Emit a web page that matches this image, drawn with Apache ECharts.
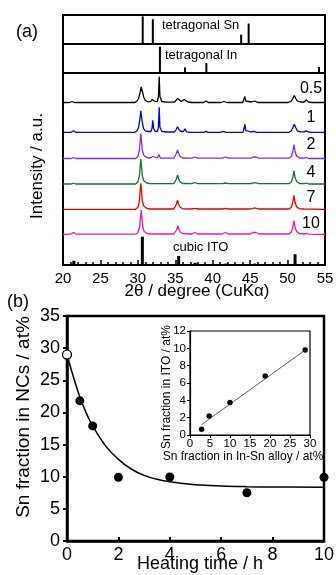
<!DOCTYPE html>
<html><head><meta charset="utf-8">
<script src="https://cdn.jsdelivr.net/npm/echarts@6/dist/echarts.min.js"></script>
<style>html,body{margin:0;padding:0;background:#fff}#c{width:336px;height:575px}</style>
</head><body><div id="c"></div>
<script>
// ---------- DATA ----------
// reference sticks [2theta, relative intensity]
const snSticks = [[30.65,100],[32.0,90],[43.8,34],[44.8,74]];
const inSticks = [[32.95,100],[36.3,21],[39.15,38],[54.2,23]];
const itoSticks = [[21.45,15],[30.6,100],[35.45,32],[37.65,8],[41.75,5],[45.6,5],[51.0,38]];
// XRD patterns [2theta, intensity a.u.]
const pattern05 = [[20,0],[20.9,0],[21.2,1],[21.5,0],[29.6,0],[29.9,1.5],[30.1,4],[30.3,10],[30.45,15.5],[30.6,11],[30.8,5],[31.0,2],[31.3,0.8],[31.7,0.8],[31.9,3],[32.0,5],[32.1,3],[32.3,1],[32.6,0.8],[32.75,6],[32.85,26],[32.95,6],[33.2,1],[33.8,0.3],[34.9,0.3],[35.1,2],[35.3,4],[35.5,2],[35.8,1],[36.0,1],[36.2,3],[36.3,5],[36.4,3],[36.7,0.5],[37.2,0],[38.8,0],[39.1,1.5],[39.4,0],[41.1,0],[41.5,1],[41.9,0],[44.0,0],[44.2,1.5],[44.3,6],[44.4,1.5],[44.6,0.5],[45.2,0.5],[45.6,1.5],[46.0,0],[50.1,0],[50.5,1.5],[50.7,4],[50.9,7],[51.1,4],[51.3,1.5],[51.7,0.5],[52.2,0.5],[52.5,2.5],[52.8,0.5],[53.2,0],[55,0]];
const pattern1 = [[20,0],[21.1,0],[21.4,1.5],[21.7,0],[29.6,0],[29.9,1.5],[30.1,5],[30.25,12],[30.4,21.5],[30.55,12],[30.75,4],[31.0,1.5],[31.4,0.8],[31.75,0.8],[31.9,4],[32.0,12],[32.1,4],[32.3,1],[32.6,0.8],[32.75,5],[32.85,25],[32.95,5],[33.2,1],[33.8,0.3],[34.9,0.3],[35.1,2.5],[35.3,5.6],[35.5,2.5],[35.8,0.8],[36.1,0.8],[36.3,3.5],[36.5,0.5],[37.0,0],[38.8,0],[39.1,1],[39.4,0],[41.0,0],[41.4,1],[41.8,0],[44.05,0],[44.2,2],[44.3,8],[44.4,2],[44.6,0.5],[45.1,0.3],[45.5,1],[45.9,0],[50.2,0],[50.5,1.5],[50.7,4.5],[50.9,8],[51.1,4.5],[51.3,1.5],[51.7,0.5],[52.2,0.5],[52.5,1.5],[52.8,0.3],[53.2,0],[55,0]];
const pattern2 = [[20,0],[21.1,0],[21.4,1],[21.7,0],[29.7,0],[30.0,2],[30.2,8],[30.4,25],[30.6,8],[30.8,3],[31.2,1],[31.6,0.5],[31.8,0.5],[32.0,2],[32.2,0.5],[32.6,0.5],[32.8,4],[33.0,0.5],[33.6,0.3],[34.8,0.3],[35.0,2],[35.15,5],[35.3,8.5],[35.45,5],[35.65,2],[36.0,0.5],[37.2,0.3],[37.6,1.5],[38.0,0.3],[41.3,0.3],[41.7,1.5],[42.1,0.3],[45.1,0.3],[45.4,1.5],[45.6,2.5],[45.8,1.5],[46.1,0.3],[50.2,0.3],[50.5,2],[50.7,7],[50.85,14],[51.0,7],[51.2,2.5],[51.6,0.5],[52.2,0.3],[52.5,1],[52.8,0],[55,0]];
const pattern4 = [[20,0],[21.1,0],[21.4,1],[21.7,0],[29.7,0],[30.0,2],[30.2,8],[30.4,25],[30.6,8],[30.8,3],[31.2,1],[31.6,0.3],[34.8,0.3],[35.0,2],[35.15,5],[35.3,9],[35.45,5],[35.65,2],[36.0,0.5],[37.2,0.3],[37.6,1.5],[38.0,0.3],[41.3,0.3],[41.7,1],[42.1,0.3],[45.1,0.3],[45.4,1.2],[45.6,2],[45.8,1.2],[46.1,0.3],[49.0,0.3],[49.2,1],[49.4,0.3],[50.2,0.3],[50.5,2],[50.7,6.5],[50.85,13.3],[51.0,6.5],[51.2,2.5],[51.6,0.5],[52.2,0.3],[52.5,1],[52.8,0],[55,0]];
const pattern7 = [[20,0],[29.7,0],[30.0,2],[30.2,8],[30.4,26],[30.6,8],[30.8,3],[31.2,1],[31.6,0.3],[34.8,0.3],[35.0,2],[35.15,5],[35.3,9],[35.45,5],[35.65,2],[36.0,0.5],[37.2,0.3],[37.6,1],[38.0,0.3],[41.3,0.3],[41.7,1],[42.1,0.3],[45.1,0.3],[45.6,1.5],[46.1,0.3],[50.2,0.3],[50.5,2],[50.7,7],[50.85,14],[51.0,7],[51.2,2.5],[51.6,0.5],[52.2,0.3],[55,0]];
const pattern10 = [[20,0],[21.0,0.3],[21.4,2],[21.8,0.3],[29.7,0.3],[30.0,2],[30.25,8],[30.45,24.5],[30.65,8],[30.85,3],[31.2,1.2],[31.6,0.5],[34.8,0.5],[35.05,2],[35.2,5],[35.35,8.5],[35.5,5],[35.7,2],[36.0,1],[37.2,0.5],[37.6,2],[38.0,0.5],[41.3,0.5],[41.7,2],[42.1,0.5],[45.0,0.5],[45.4,2],[45.6,3],[45.8,2],[46.2,0.5],[50.2,0.5],[50.5,2.5],[50.7,7],[50.85,14],[51.0,7],[51.2,3],[51.6,1],[52.2,0.5],[52.5,1],[52.8,0.3],[55,0]];
const patternLabels = ['0.5','1','2','4','7','10'];
const patternColors = ['#000000','#0000dd','#7b30e0','#1a6e30','#e00000','#f0189a'];
// panel (b)
const heatingTime = [0.5, 1, 2, 4, 7, 10];
const snFractionNCs = [21.8, 17.9, 9.9, 9.95, 7.5, 9.9];
const initialPoint = [[0, 29]];
const fitCurve = [[0,29],[0.25,25.5],[0.5,22.4],[0.75,19.9],[1,17.9],[1.5,14.8],[2,12.7],[2.5,11.2],[3,10.2],[3.5,9.6],[4,9.2],[5,8.75],[6,8.55],[7,8.45],[8,8.4],[10,8.35]];
const insetAlloy = [2.9, 4.8, 10, 18.8, 28.8];
const insetITO = [0.65, 2.2, 3.75, 6.8, 9.8];
const insetFit = [[2.9,1.2],[28.8,9.8]];

// ---------- LAYOUT ----------
const FONT = '"Liberation Sans", Arial, Helvetica, sans-serif';
const chart = echarts.init(document.getElementById('c'));
const grids = [], xAxes = [], yAxes = [], series = [];
const hidden = {axisLine:{show:false}, axisTick:{show:false}, axisLabel:{show:false}, splitLine:{show:false}};
function addGrid(g, xa, ya) {
  grids.push(Object.assign({outerBoundsMode:'none', containLabel:false}, g));
  const i = grids.length - 1;
  xAxes.push(Object.assign({gridIndex:i, type:'value'}, hidden, xa));
  yAxes.push(Object.assign({gridIndex:i, type:'value'}, hidden, ya));
  return i;
}
const AL = 63, AW = 262;
const ax = {min:20, max:55};
// frame of panel (a) with the 2theta axis
addGrid({left:AL, top:15, width:AW, height:250, show:true, borderColor:'#000', borderWidth:2},
  Object.assign({}, ax, {interval:5,
    axisLine:{show:true, onZero:false, lineStyle:{color:'#000', width:2}},
    axisTick:{show:true, inside:true, length:5, lineStyle:{color:'#000', width:1.5}},
    minorTick:{show:true, splitNumber:5, length:3, lineStyle:{color:'#000', width:1.5}},
    axisLabel:{show:true, color:'#000', fontSize:15, fontFamily:FONT, margin:6}}),
  {min:0, max:1});
// tetragonal Sn
let gi = addGrid({left:AL, top:15, width:AW, height:29},
  Object.assign({}, ax, {axisLine:{show:true, onZero:false, lineStyle:{color:'#000', width:2}}}), {min:0, max:105});
series.push({type:'bar', xAxisIndex:gi, yAxisIndex:gi, data:snSticks, barWidth:2, itemStyle:{color:'#000'}, silent:true});
// tetragonal In
gi = addGrid({left:AL, top:44, width:AW, height:29},
  Object.assign({}, ax, {axisLine:{show:true, onZero:false, lineStyle:{color:'#000', width:2}}}), {min:0, max:110});
series.push({type:'bar', xAxisIndex:gi, yAxisIndex:gi, data:inSticks, barWidth:2, itemStyle:{color:'#000'}, silent:true});
// patterns
const patterns = [pattern05, pattern1, pattern2, pattern4, pattern7, pattern10];
const baselines = [102.5, 132.3, 158.5, 184, 209.3, 234.5];
patterns.forEach((p, k) => {
  const g = addGrid({left:AL, top:baselines[k]-30, width:AW, height:30}, Object.assign({}, ax), {min:0, max:30});
  series.push({type:'line', xAxisIndex:g, yAxisIndex:g, data:p, showSymbol:false, clip:false, silent:true,
    lineStyle:{color:patternColors[k], width:1.3}});
});
// cubic ITO
gi = addGrid({left:AL, top:235, width:AW, height:30}, Object.assign({}, ax), {min:0, max:106});
series.push({type:'bar', xAxisIndex:gi, yAxisIndex:gi, data:itoSticks, barWidth:3, itemStyle:{color:'#000'}, silent:true});

// panel (b) main
gi = addGrid({left:67, top:316, width:257, height:225, show:true, borderColor:'#000', borderWidth:2.5},
  {min:0, max:10, interval:2,
   axisLine:{show:true, onZero:false, lineStyle:{color:'#000', width:2.5}},
   axisTick:{show:true, inside:true, length:4, lineStyle:{color:'#000', width:2}},
   axisLabel:{show:true, color:'#000', fontSize:18, fontFamily:FONT, margin:5}},
  {min:0, max:35, interval:5,
   axisLine:{show:true, onZero:false, lineStyle:{color:'#000', width:2.5}},
   axisTick:{show:true, inside:false, length:4, lineStyle:{color:'#000', width:2}},
   axisLabel:{show:true, color:'#000', fontSize:18, fontFamily:FONT, margin:7}});
series.push({type:'line', xAxisIndex:gi, yAxisIndex:gi, data:fitCurve, smooth:0.4, showSymbol:false, silent:true,
  lineStyle:{color:'#000', width:1.5}, z:2});
series.push({type:'scatter', xAxisIndex:gi, yAxisIndex:gi, data:heatingTime.map((t,i)=>[t, snFractionNCs[i]]),
  symbol:'circle', symbolSize:9, clip:false, silent:true, itemStyle:{color:'#000', opacity:1}, z:4});
series.push({type:'scatter', xAxisIndex:gi, yAxisIndex:gi, data:initialPoint,
  symbol:'circle', symbolSize:9, clip:false, silent:true, itemStyle:{color:'#fff', borderColor:'#000', borderWidth:1.3, opacity:1}, z:4});

// inset
gi = addGrid({left:190, top:331, width:120, height:104, show:true, borderColor:'#000', borderWidth:1.2, backgroundColor:'#fff'},
  {min:0, max:30, interval:5,
   axisLine:{show:true, onZero:false, lineStyle:{color:'#000', width:1.2}},
   axisTick:{show:true, inside:false, length:3, lineStyle:{color:'#000', width:1}},
   axisLabel:{show:true, color:'#000', fontSize:11.5, fontFamily:FONT, margin:3}},
  {min:0, max:12, interval:2,
   axisLine:{show:true, onZero:false, lineStyle:{color:'#000', width:1.2}},
   axisTick:{show:true, inside:false, length:3, lineStyle:{color:'#000', width:1}},
   axisLabel:{show:true, color:'#000', fontSize:11.5, fontFamily:FONT, margin:4}});
series.push({type:'line', xAxisIndex:gi, yAxisIndex:gi, data:insetFit, showSymbol:false, silent:true,
  lineStyle:{color:'#333', width:0.8}});
series.push({type:'scatter', xAxisIndex:gi, yAxisIndex:gi, data:insetAlloy.map((a,i)=>[a, insetITO[i]]),
  symbol:'circle', symbolSize:5.5, silent:true, itemStyle:{color:'#000', opacity:1}});

// texts
function txt(text, x, y, size, opts) {
  return Object.assign({type:'text', x:x, y:y, silent:true,
    style:Object.assign({text:text, fill:'#000', font:size+'px '+FONT, textAlign:'left', textVerticalAlign:'middle'}, (opts&&opts.style)||{})},
    opts && opts.rot ? {rotation:opts.rot} : {});
}
const labelY = [89, 118, 145, 173, 198, 224];
const graphics = [
  txt('(a)', 16, 32, 18),
  txt('(b)', 7, 302, 18),
  txt('tetragonal Sn', 162, 25, 13),
  txt('tetragonal In', 165, 55, 13),
  txt('cubic ITO', 173, 247, 13),
  txt('Intensity / a.u.', 37, 166, 17, {rot:Math.PI/2, style:{textAlign:'center'}}),
  txt('2θ / degree (CuKα)', 197, 291, 17, {style:{textAlign:'center'}}),
  txt('Sn fraction in NCs / at%', 24, 417, 19, {rot:Math.PI/2, style:{textAlign:'center'}}),
  txt('Heating time / h', 200, 564, 18, {style:{textAlign:'center'}}),
  txt('Sn fraction in ITO / at%', 167, 387, 12, {rot:Math.PI/2, style:{textAlign:'center'}}),
  txt('Sn fraction in In-Sn alloy / at%', 243, 457, 12, {style:{textAlign:'center'}})
];
patternLabels.forEach((l, k) => graphics.push(txt(l, 311, labelY[k], 16, {style:{textAlign:'center'}})));

chart.setOption({
  animation:false,
  backgroundColor:'#fff',
  grid:grids, xAxis:xAxes, yAxis:yAxes, series:series,
  graphic:{elements:graphics}
});
</script></body></html>
